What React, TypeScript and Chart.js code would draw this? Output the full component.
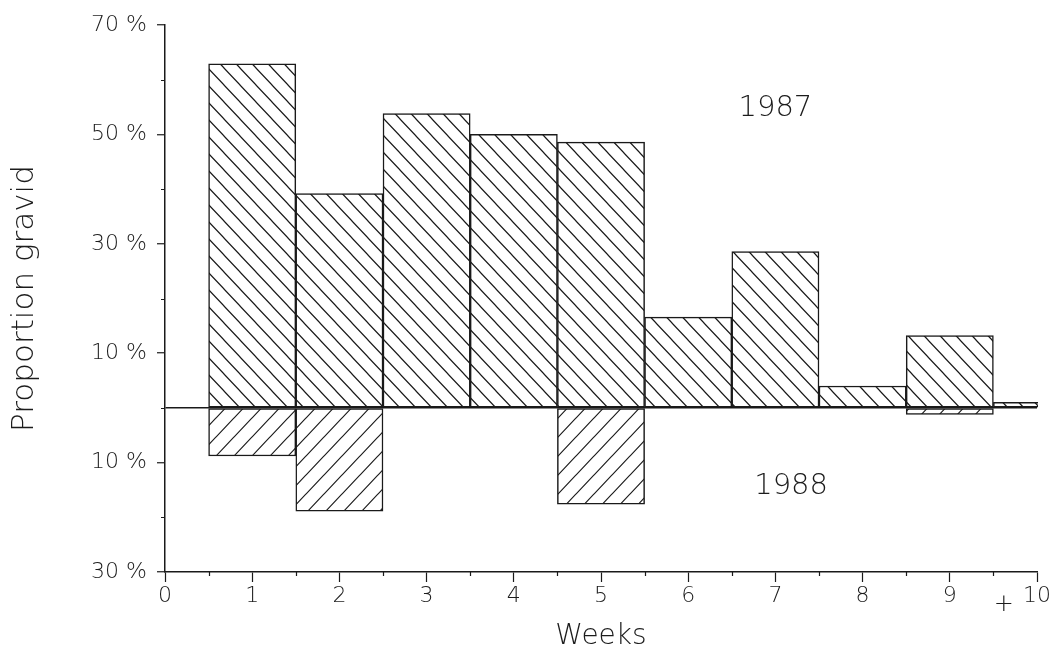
import React, { useEffect, useRef } from 'react';
import { Chart, registerables } from 'chart.js';

Chart.register(...registerables);

// ---- data ----
const weeks = [1, 2, 3, 4, 5, 6, 7, 8, 9, 10];
const values1987 = [62.9, 39.2, 53.8, 50.0, 48.6, 16.6, 28.6, 4.0, 13.2, 1.0];
const values1988 = [-8.8, -18.9, null, null, -17.6, null, null, null, -1.2, null];
const yMajorTicks = [70, 50, 30, 10, -10, -30];
const yMinorTicks = [60, 40, 20, 0, -20];
const xMinorTicks = [0.5, 1.5, 2.5, 3.5, 4.5, 5.5, 6.5, 7.5, 8.5, 9.5];
const seriesLabels = [
  { text: '1987', x: 7.0, y: 54.7 },
  { text: '1988', x: 7.18, y: -14.3 },
];
const plusMark = { text: '+', x: 9.62 };

const FONT = '"DejaVu Sans", sans-serif';
const INK = '#1a1a1a';
const TEXT = '#1c1c1c';

function hatch(dir: 'back' | 'fwd', w: number, h: number): CanvasPattern {
  const c = document.createElement('canvas');
  c.width = w;
  c.height = h;
  const g = c.getContext('2d')!;
  g.fillStyle = '#fff';
  g.fillRect(0, 0, w, h);
  g.strokeStyle = INK;
  g.lineWidth = 1.2;
  g.beginPath();
  for (let k = -1; k <= 1; k++) {
    if (dir === 'back') {
      g.moveTo(-w + k * w, -h);
      g.lineTo(2 * w + k * w, 2 * h);
    } else {
      g.moveTo(-w + k * w, 2 * h);
      g.lineTo(2 * w + k * w, -h);
    }
  }
  g.stroke();
  return g.createPattern(c, 'repeat')!;
}

const decorPlugin = {
  id: 'decor',
  afterDraw(chart: any) {
    const { ctx } = chart;
    const xs = chart.scales.x;
    const ys = chart.scales.y;
    const left = chart.chartArea.left;
    const bottom = chart.chartArea.bottom;
    ctx.save();
    ctx.strokeStyle = INK;
    ctx.lineWidth = 1.2;
    ctx.beginPath();
    yMinorTicks.forEach((v) => {
      const py = Math.round(ys.getPixelForValue(v)) + 0.5;
      ctx.moveTo(left - 4, py);
      ctx.lineTo(left, py);
    });
    xMinorTicks.forEach((v) => {
      const px = Math.round(xs.getPixelForValue(v)) + 0.5;
      ctx.moveTo(px, bottom);
      ctx.lineTo(px, bottom + 4);
    });
    ctx.stroke();

    ctx.fillStyle = TEXT;
    ctx.textAlign = 'center';
    ctx.textBaseline = 'middle';
    ctx.font = `200 29px ${FONT}`;
    seriesLabels.forEach((l) => {
      ctx.fillText(l.text, xs.getPixelForValue(l.x), ys.getPixelForValue(l.y));
    });
    ctx.font = `200 24px ${FONT}`;
    ctx.fillText(plusMark.text, xs.getPixelForValue(plusMark.x), bottom + 33);
    ctx.restore();
  },
};

export default function App() {
  const ref = useRef<HTMLCanvasElement | null>(null);

  useEffect(() => {
    document.body.style.margin = '0';
    const canvas = ref.current!;
    const p1987 = hatch('back', 16, 17);
    const p1988 = hatch('fwd', 18, 19);

    const chart = new Chart(canvas, {
      type: 'bar',
      data: {
        datasets: [
          {
            label: '1987',
            data: weeks.map((w, i) => ({ x: w, y: values1987[i] })),
            backgroundColor: p1987,
            borderColor: INK,
            borderWidth: 1.5,
            borderSkipped: false,
            barPercentage: 1,
            categoryPercentage: 1,
            grouped: false,
            clip: { left: 0, right: 1, top: 0, bottom: 0 },
          } as any,
          {
            label: '1988',
            data: weeks.map((w, i) => ({ x: w, y: values1988[i] })),
            backgroundColor: p1988,
            borderColor: INK,
            borderWidth: 1.5,
            borderSkipped: false,
            barPercentage: 1,
            categoryPercentage: 1,
            grouped: false,
            clip: { left: 0, right: 1, top: 0, bottom: 0 },
          } as any,
        ],
      },
      options: {
        animation: false,
        responsive: false,
        devicePixelRatio: 1,
        layout: { padding: { left: 0, right: 20, top: 25, bottom: 0 } },
        plugins: {
          legend: { display: false },
          tooltip: { enabled: false },
        },
        scales: {
          x: {
            type: 'linear',
            min: 0,
            max: 10,
            offset: false,
            afterFit: (s: any) => {
              s.height = 86;
            },
            ticks: {
              stepSize: 1,
              autoSkip: false,
              color: TEXT,
              padding: 1,
              font: { family: FONT, size: 22, weight: '200' as any },
              callback: (v: any) => String(v),
            },
            grid: {
              offset: false,
              drawOnChartArea: false,
              drawTicks: true,
              tickLength: 10,
              tickColor: INK,
              tickWidth: 1.2,
            },
            border: { display: true, color: INK, width: 1.5 },
            title: {
              display: true,
              text: 'Weeks',
              color: TEXT,
              font: { family: FONT, size: 28, weight: '200' as any },
              padding: { top: 0, bottom: 4 },
            },
          },
          y: {
            min: -30,
            max: 70,
            afterFit: (s: any) => {
              s.width = 165;
            },
            ticks: {
              stepSize: 10,
              autoSkip: false,
              color: TEXT,
              padding: 10,
              font: { family: FONT, size: 22, weight: '200' as any },
              callback: (v: any) => (yMajorTicks.includes(v) ? `${Math.abs(v)} %` : ''),
            },
            grid: {
              drawOnChartArea: true,
              drawTicks: true,
              tickLength: 8,
              lineWidth: 1.5,
              color: (c: any) => (c.tick && c.tick.value === 0 ? INK : 'rgba(0,0,0,0)'),
              tickColor: (c: any) =>
                c.tick && yMajorTicks.includes(c.tick.value) ? INK : 'rgba(0,0,0,0)',
              tickWidth: 1.2,
            },
            border: { display: true, color: INK, width: 1.5 },
            title: {
              display: true,
              text: 'Proportion gravid',
              color: TEXT,
              font: { family: FONT, size: 31, weight: '200' as any },
              padding: { top: 6, bottom: 0 },
            },
          },
        },
      },
      plugins: [decorPlugin],
    } as any);

    return () => chart.destroy();
  }, []);

  return (
    <div style={{ position: 'absolute', left: 0, top: 0, width: 1057, height: 658, background: '#fff' }}>
      <canvas ref={ref} width={1057} height={658} />
    </div>
  );
}
